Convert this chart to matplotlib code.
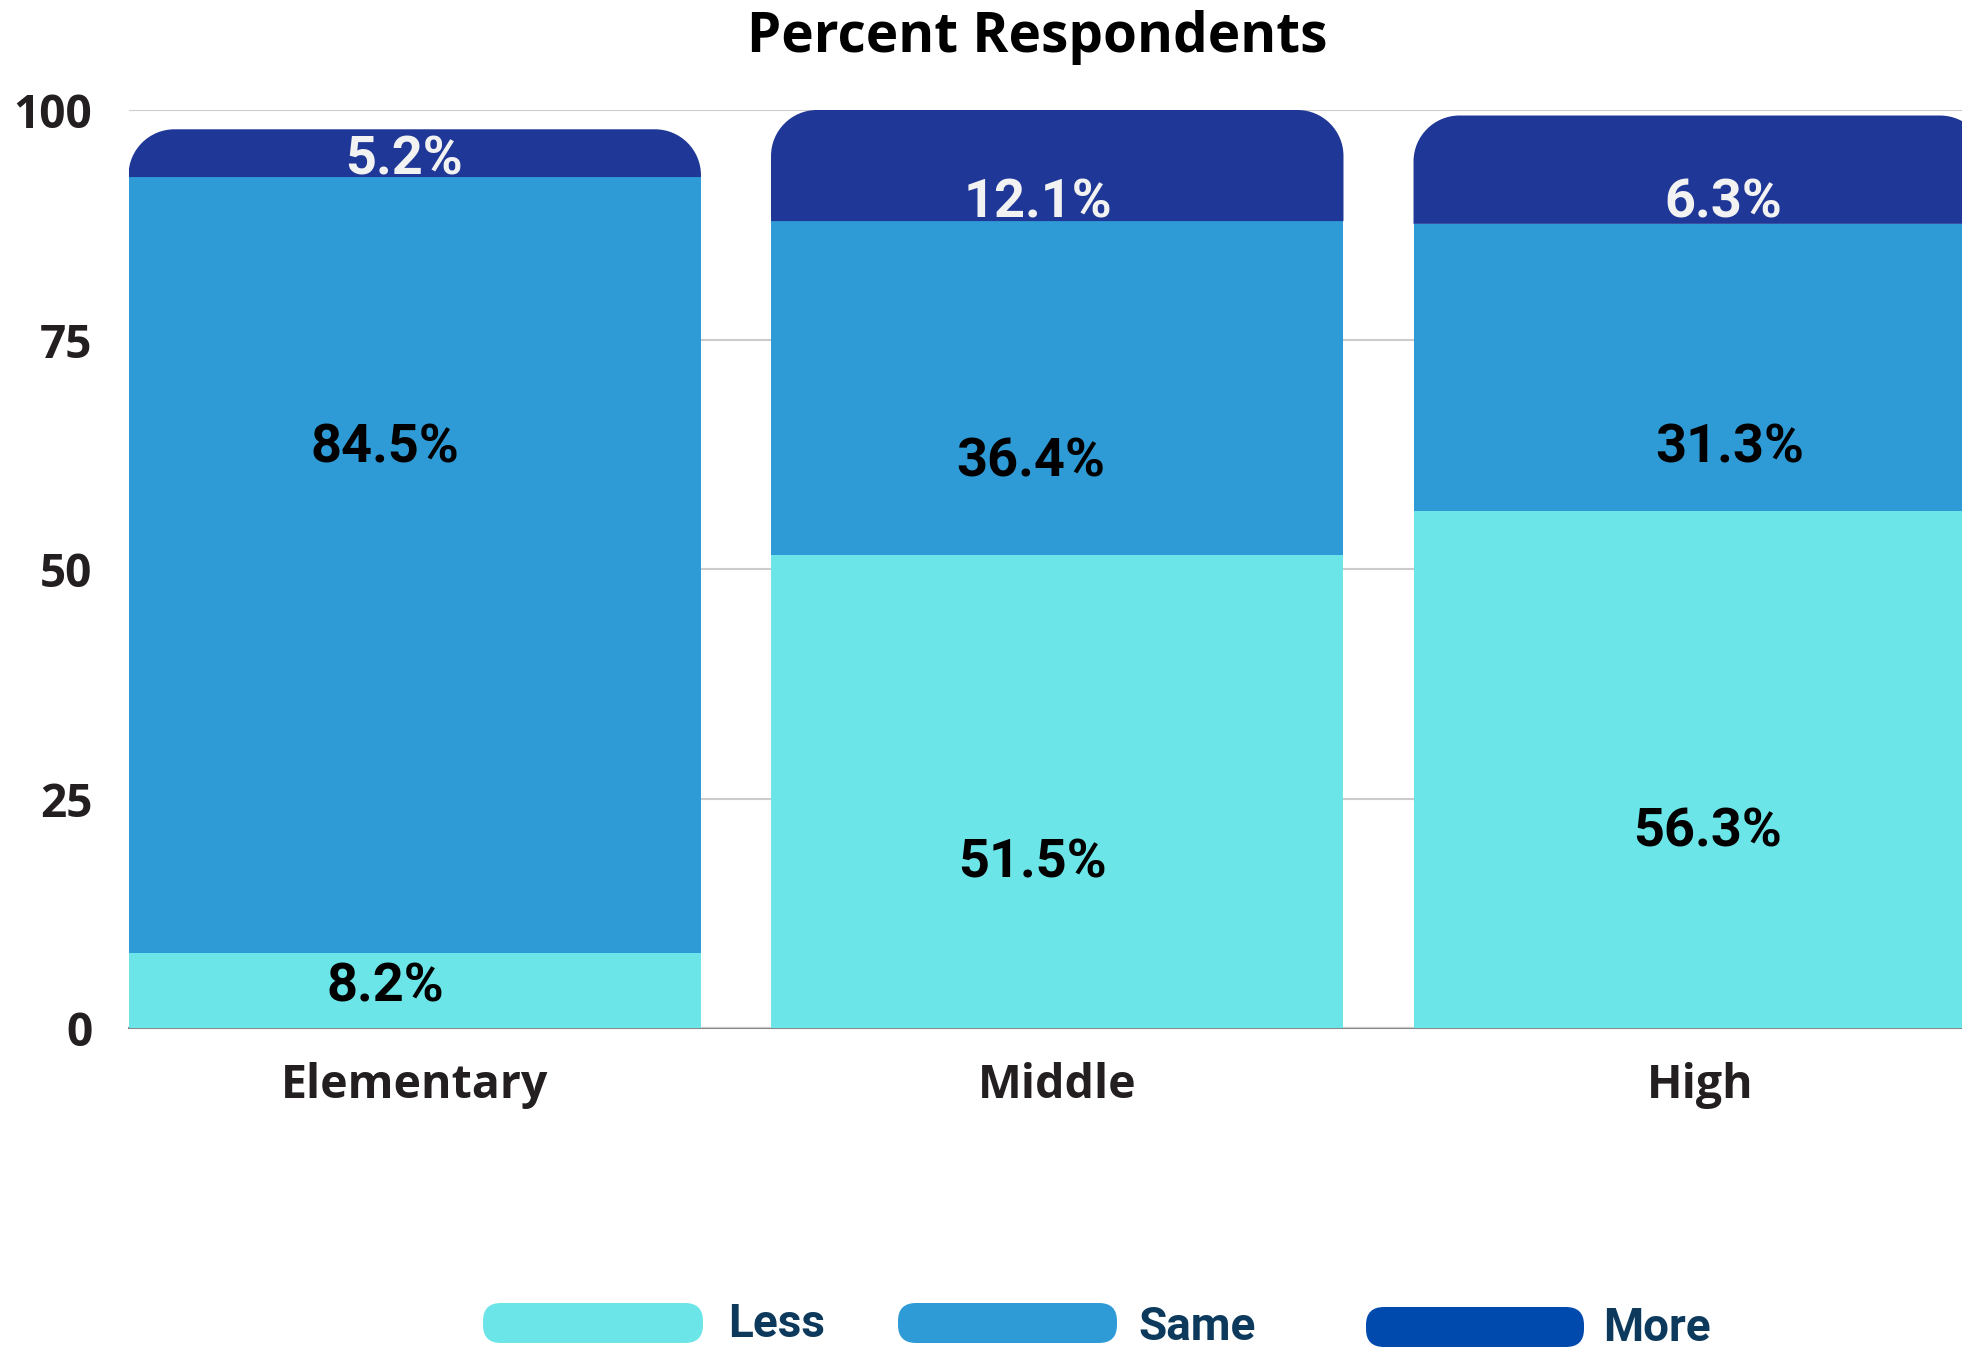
import matplotlib
matplotlib.use("Agg")
import matplotlib.pyplot as plt
from matplotlib.path import Path
from matplotlib.patches import PathPatch, FancyBboxPatch

# ---------------- data ----------------
categories = ["Elementary", "Middle", "High"]
less = [8.2, 51.5, 56.3]
same = [84.5, 36.4, 31.3]
more = [5.2, 12.1, 11.8]          # drawn heights as seen in the chart
less_labels = ["8.2%", "51.5%", "56.3%"]
same_labels = ["84.5%", "36.4%", "31.3%"]
more_labels = ["5.2%", "12.1%", "6.3%"]
series_names = ["Less", "Same", "More"]
yticks = [0, 25, 50, 75, 100]

# ---------------- style ----------------
C_LESS = "#6BE5E8"
C_SAME = "#2E9BD6"
C_MORE = "#1F3796"
C_MORE_LEG = "#004AAD"
C_LEG_TXT = "#0D3A5C"
C_TICK = "#231F20"

W, H = 1962, 1347
fig = plt.figure(figsize=(W / 100, H / 100), dpi=100)

ax_left, ax_right, ax_top, ax_bot = 128.5, 1986.0, 110.0, 1028.3
ax = fig.add_axes([ax_left / W, 1 - ax_bot / H, (ax_right - ax_left) / W, (ax_bot - ax_top) / H])
bw = 0.891
ax.set_xlim(-bw / 2, 2 + bw / 2)
ax.set_ylim(0, 100)

px_per_x = (ax_right - ax_left) / (2 + bw)
px_per_y = (ax_bot - ax_top) / 100.0
radius_px = 46
rx = radius_px / px_per_x
ry = radius_px / px_per_y

x = list(range(len(categories)))
ax.bar(x, less, width=bw, color=C_LESS, linewidth=0, zorder=2)
ax.bar(x, same, width=bw, bottom=less, color=C_SAME, linewidth=0, zorder=2)


def top_rounded(x0, y0, w, h, rx, ry):
    ry = min(ry, h)
    k = 0.5523
    verts = [(x0, y0), (x0 + w, y0), (x0 + w, y0 + h - ry),
             (x0 + w, y0 + h - ry + k * ry), (x0 + w - rx + k * rx, y0 + h), (x0 + w - rx, y0 + h),
             (x0 + rx, y0 + h),
             (x0 + rx - k * rx, y0 + h), (x0, y0 + h - ry + k * ry), (x0, y0 + h - ry),
             (x0, y0)]
    codes = [Path.MOVETO, Path.LINETO, Path.LINETO,
             Path.CURVE4, Path.CURVE4, Path.CURVE4,
             Path.LINETO,
             Path.CURVE4, Path.CURVE4, Path.CURVE4,
             Path.CLOSEPOLY]
    return Path(verts, codes)


for i in x:
    base = less[i] + same[i]
    p = top_rounded(i - bw / 2, base, bw, more[i], rx, ry)
    ax.add_patch(PathPatch(p, facecolor=C_MORE, edgecolor="none", lw=0, zorder=2))

# value labels (positions tuned to the reference layout: x offset, baseline y)
lab_font = dict(family="Roboto", weight="bold", size=39)
less_pos = [(-0.046, 2.9), (-0.038, 16.4), (0.013, 19.85)]
same_pos = [(-0.046, 61.6), (-0.042, 60.1), (0.046, 61.6)]
more_pos = [(-0.016, 93.0), (-0.030, 88.27), (0.036, 88.27)]
for i in x:
    ax.text(i + less_pos[i][0], less_pos[i][1], less_labels[i], ha="center", va="baseline",
            color="black", zorder=5, **lab_font)
    ax.text(i + same_pos[i][0], same_pos[i][1], same_labels[i], ha="center", va="baseline",
            color="black", zorder=5, **lab_font)
    ax.text(i + more_pos[i][0], more_pos[i][1], more_labels[i], ha="center", va="baseline",
            color="#F2F2F2", zorder=5, **lab_font)

# axes styling
ax.set_yticks(yticks)
ax.set_yticklabels([str(t) for t in yticks], fontfamily="Open Sans", fontweight="bold",
                   fontsize=33, color=C_TICK)
ax.set_xticks(x)
ax.set_xticklabels(categories, fontfamily="Open Sans", fontweight="bold", fontsize=33.5, color=C_TICK)
ax.tick_params(axis="y", length=0, pad=26)
ax.tick_params(axis="x", length=0, pad=24)
ax.yaxis.grid(True, color="#CCCCCC", linewidth=1.5)
ax.set_axisbelow(True)
for s in ["top", "right", "left"]:
    ax.spines[s].set_visible(False)
ax.spines["bottom"].set_color("#888888")
ax.spines["bottom"].set_linewidth(1.5)
ax.spines["bottom"].set_zorder(0.5)

# title
fig.text(1037 / W, 1 - 52 / H, "Percent Respondents", ha="center", va="baseline",
         fontfamily="Open Sans", fontweight="bold", fontsize=39.5, color="black")

# legend (overlay in pixel coordinates)
lax = fig.add_axes([0, 0, 1, 1], zorder=10)
lax.set_xlim(0, W)
lax.set_ylim(H, 0)
lax.axis("off")
leg_colors = [C_LESS, C_SAME, C_MORE_LEG]
leg_boxes = [(483, 1303, 220, 40), (898, 1303, 219, 40), (1366, 1307, 218, 40)]
leg_text = [(728, 1337), (1138, 1340), (1603, 1341)]
for name, col, (bx, by, bwid, bh), (tx, ty) in zip(series_names, leg_colors, leg_boxes, leg_text):
    lax.add_patch(FancyBboxPatch((bx, by), bwid, bh, boxstyle="round,pad=0,rounding_size=18",
                                 facecolor=col, edgecolor="none"))
    lax.text(tx, ty, name, ha="left", va="baseline", fontfamily="Roboto", fontweight="bold",
             fontsize=33, color=C_LEG_TXT)

fig.savefig("out.png", dpi=100)
